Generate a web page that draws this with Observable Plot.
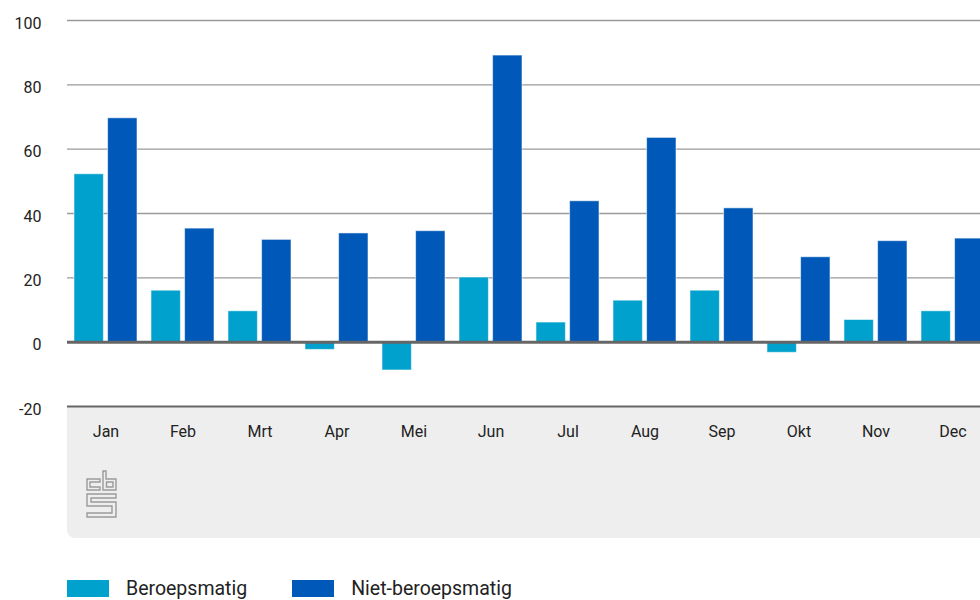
<!DOCTYPE html>
<html><head><meta charset="utf-8">
<script src="https://cdn.jsdelivr.net/npm/d3@7"></script>
<script src="https://cdn.jsdelivr.net/npm/@observablehq/plot@0.6"></script>
<style>
html,body{margin:0;padding:0;background:#fff;overflow:hidden;}
#wrap{position:relative;width:980px;height:600px;overflow:hidden;font-family:Roboto,sans-serif;}
#panel{position:absolute;left:67px;top:406px;width:940px;height:132px;background:#eeeeee;border-bottom-left-radius:8px;}
#chart{position:absolute;left:0;top:0;width:991px;}
#logo{position:absolute;left:86px;top:470px;}
#legend{position:absolute;left:67px;top:580px;display:flex;align-items:center;font-size:19.5px;color:#222;}
.sw{width:42px;height:17px;display:inline-block;margin-right:17px;}
.item{display:flex;align-items:center;margin-right:45px;line-height:17px;}
</style></head>
<body>
<div id="wrap">
  <div id="panel"></div>
  <div id="chart"></div>
  <svg id="logo" width="32" height="48" viewBox="0 0 32 48">
    <g fill="none" stroke="#9a9a9a" stroke-width="1.4">
      <path d="M14 9 H1 V20 H14 V17 H4 V12 H14 Z"/>
      <path d="M17 1 H20 V9 H30 V20 H17 Z"/>
      <path d="M20.5 12 H27 V17 H20.5 Z"/>
      <path d="M1 24 H30 V28 H5 V32 H30 V47 H1 V43 H26 V36 H1 Z"/>
    </g>
  </svg>
  <div id="legend"></div>
</div>
<script>
const months = ["Jan","Feb","Mrt","Apr","Mei","Jun","Jul","Aug","Sep","Okt","Nov","Dec"];
const beroepsmatig = [52.2, 16.0, 9.6, -2.4, -8.8, 20.1, 6.1, 12.9, 16.0, -3.3, 6.9, 9.6];
const nietBeroepsmatig = [69.6, 35.3, 31.8, 33.8, 34.5, 89.1, 43.8, 63.5, 41.6, 26.4, 31.4, 32.2];
const seriesNames = ["Beroepsmatig", "Niet-beroepsmatig"];
const seriesColors = ["#00a1cd", "#0058b8"];
const yTicks = [-20, 0, 20, 40, 60, 80, 100];
const gridTicks = [20, 40, 60, 80, 100];

const lightData = months.map((m, i) => ({month: m, value: beroepsmatig[i]}));
const darkData = months.map((m, i) => ({month: m, value: nietBeroepsmatig[i]}));

const chart = Plot.plot({
  width: 991,
  height: 540,
  marginLeft: 67,
  marginRight: 0,
  marginTop: 20,
  marginBottom: 134,
  style: {background: "transparent", overflow: "hidden", maxWidth: "none", color: "#222", fontSize: "16px", fontFamily: "Roboto, sans-serif"},
  x: {domain: months, paddingInner: 0.18, paddingOuter: 0.09},
  y: {domain: [-20, 100]},
  marks: [
    Plot.ruleY(gridTicks, {stroke: "#9a9a9a", strokeWidth: 1.3}),
    Plot.barY(lightData, {x: "month", y: "value", fill: seriesColors[0], insetRight: 33.6, stroke: "#ffffff", strokeOpacity: 0.55, strokeWidth: 1}),
    Plot.barY(darkData, {x: "month", y: "value", fill: seriesColors[1], insetLeft: 33.6, stroke: "#ffffff", strokeOpacity: 0.55, strokeWidth: 1}),
    Plot.ruleY([0], {stroke: "#666", strokeWidth: 3}),
    Plot.ruleY([-20], {stroke: "#666", strokeWidth: 2}),
    Plot.axisY({ticks: yTicks, tickFormat: d => String(d), tickSize: 0, tickPadding: 26, dy: 3, label: null, fontSize: 16}),
    Plot.axisX({tickSize: 0, tickPadding: 19, label: null, fontSize: 16})
  ]
});
document.getElementById("chart").appendChild(chart);

const legend = document.getElementById("legend");
seriesNames.forEach((name, i) => {
  const item = document.createElement("div");
  item.className = "item";
  const sw = document.createElement("span");
  sw.className = "sw";
  sw.style.background = seriesColors[i];
  const t = document.createElement("span");
  t.textContent = name;
  item.appendChild(sw);
  item.appendChild(t);
  legend.appendChild(item);
});
</script>
</body></html>
